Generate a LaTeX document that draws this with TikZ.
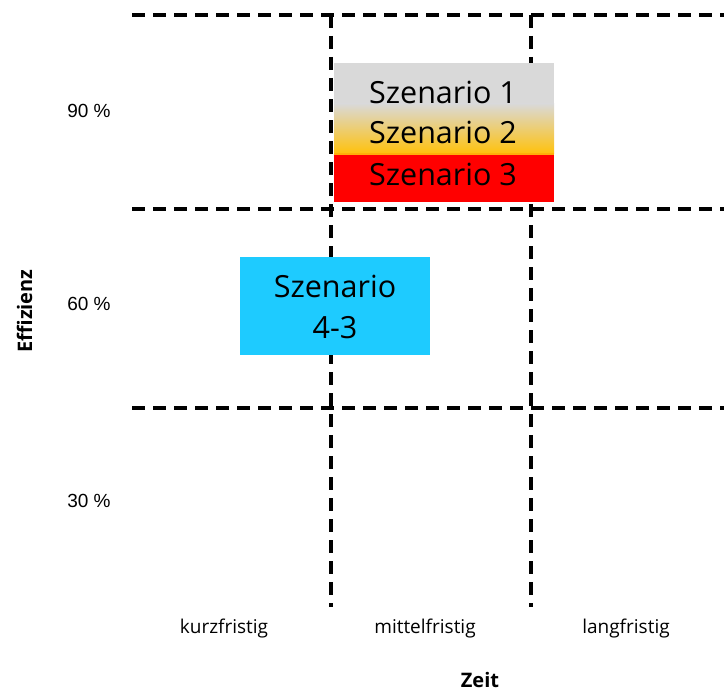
\documentclass[tikz,border=0pt]{standalone}
\usepackage{fontspec}
\setmainfont{Open Sans}
\newfontfamily\arialf{Liberation Sans}
\definecolor{scgray}{HTML}{D9D9D9}
\definecolor{scyellow}{HTML}{FFC20E}
\definecolor{scred}{HTML}{FF0000}
\definecolor{scblue}{HTML}{1ECBFF}
\tikzset{
  gridline/.style={line width=3.5bp, dash pattern=on 13bp off 8bp},
  boxtext/.style={anchor=base, inner sep=0, font=\fontsize{30.5bp}{38bp}\selectfont},
  pct/.style={anchor=base, inner sep=0, font=\arialf\fontsize{19bp}{22bp}\selectfont},
  timelbl/.style={anchor=base, inner sep=0, font=\fontsize{19bp}{22bp}\selectfont},
  axislbl/.style={anchor=base, inner sep=0, font=\bfseries\fontsize{20bp}{24bp}\selectfont}
}
\begin{document}
\begin{tikzpicture}[x={(1bp,0)}, y={(0,-1bp)}]
\useasboundingbox (0,0) rectangle (724,693);
% grid
\draw[gridline] (132,15) -- (724,15);
\draw[gridline] (132,209) -- (724,209);
\draw[gridline] (132,408) -- (724,408);
\draw[gridline] (331,15) -- (331,607);
\draw[gridline] (531,15) -- (531,607);
% boxes
\fill[scgray] (334,63) rectangle (554,104);
\shade[top color=scgray, bottom color=scyellow] (334,103.5) rectangle (554,153);
\fill[scyellow!70!orange] (334,152.5) rectangle (554,155);
\fill[scred] (334,154.5) rectangle (554,202);
\node[fill=scblue, minimum width=190bp, minimum height=98bp, inner sep=0] (s43) at (335,306) {};
% box texts
\node[boxtext] (s1) at (443,104) {Szenario 1};
\node[boxtext] (s2) at (443,144) {Szenario 2};
\node[boxtext] (s3) at (443,185) {Szenario 3};
\node[boxtext] (s43a) at (335,297) {Szenario};
\node[boxtext] (s43b) at (335,338) {4-3};
% labels
\node[pct] (p90) at (89,118) {90 \%};
\node[pct] (p60) at (89,310) {60 \%};
\node[pct] (p30) at (89,507) {30 \%};
\node[timelbl] (kf) at (224,633) {kurzfristig};
\node[timelbl] (mf) at (425,633) {mittelfristig};
\node[timelbl] (lf) at (626,633) {langfristig};
\node[axislbl] (zeit) at (480,687) {Zeit};
\node[axislbl, rotate=90] (eff) at (32,311) {Effizienz};
\end{tikzpicture}
\end{document}
